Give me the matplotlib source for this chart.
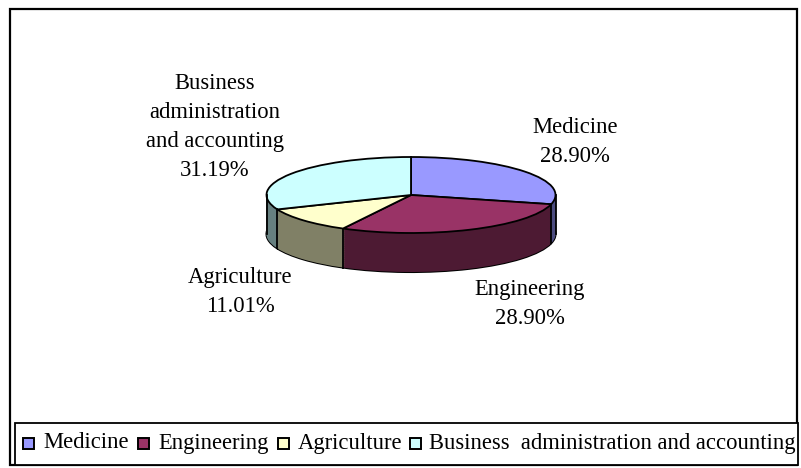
import numpy as np
import matplotlib
matplotlib.use("Agg")
import matplotlib.pyplot as plt
from matplotlib.patches import Rectangle

categories = ["Medicine", "Engineering", "Agriculture", "Business  administration and accounting"]
label_lines = ["Medicine", "Engineering", "Agriculture", "Business\nadministration\nand accounting"]
percents = [28.90, 28.90, 11.01, 31.19]
top_colors = ["#9999FF", "#993366", "#FFFFCC", "#CCFFFF"]
side_colors = ["#4C4C80", "#4D1A33", "#808066", "#668080"]

W, H = 801, 468
plt.rcParams["font.family"] = "Liberation Serif"
fig = plt.figure(figsize=(W / 100, H / 100), dpi=100, facecolor="white")
bg = fig.add_axes([0, 0, 1, 1])
bg.set_xlim(0, W); bg.set_ylim(H, 0); bg.axis("off")
bg.add_patch(Rectangle((10, 9), 787, 456, fc="white", ec="black", lw=1.6))

# pie axes: pixel box of the unit ellipse
cx, cy, rx, ry = 411, 195, 144.5, 38
ax = fig.add_axes([(cx - rx) / W, 1 - (cy + ry) / H, 2 * rx / W, 2 * ry / H])
ax.patch.set_alpha(0)
depth = 39 / ry
common = dict(colors=side_colors, startangle=90, counterclock=False, radius=1)
ax.pie(percents, center=(0, -depth), wedgeprops=dict(linewidth=1.5, edgecolor="black", clip_on=False), **common)
for d in np.linspace(depth, 0.02, 60):
    ax.pie(percents, center=(0, -d), wedgeprops=dict(linewidth=0, edgecolor="none", clip_on=False), **common)

# vertical edges of the visible side faces
ends = 90 - np.cumsum(percents) * 3.6
rims = [a for a in np.deg2rad(ends) if np.sin(a) < 0] + [0.0, np.pi]
for a in rims:
    ax.plot([np.cos(a)] * 2, [np.sin(a), np.sin(a) - depth], color="black", lw=1.3, clip_on=False)

ax.pie(percents, colors=top_colors, startangle=90, counterclock=False, radius=1,
       wedgeprops=dict(linewidth=1.3, edgecolor="black", clip_on=False))
ax.set_aspect("auto")
ax.set_xlim(-1, 1); ax.set_ylim(-1, 1)
ax.axis("off")

label_pos = [(575, 142), (530, 304), (240, 292), (215, 127)]
for txt, p, xy in zip(label_lines, percents, label_pos):
    bg.text(xy[0], xy[1], f"{txt}\n{p:.2f}%", ha="center", va="center", fontsize=16.3,
            linespacing=1.5, color="black")

# legend
bg.add_patch(Rectangle((15, 423), 783, 42, fc="white", ec="black", lw=1.3))
key_x = [28, 143, 283, 415]
text_x = [43, 158, 298, 429]
for x, tx, c, name in zip(key_x, text_x, top_colors, categories):
    bg.add_patch(Rectangle((x - 5.5, 438), 11, 11, fc=c, ec="black", lw=1.4))
    bg.text(tx, 443, name, ha="left", va="center", fontsize=16.3, color="black")

fig.savefig("out.png", dpi=100)
